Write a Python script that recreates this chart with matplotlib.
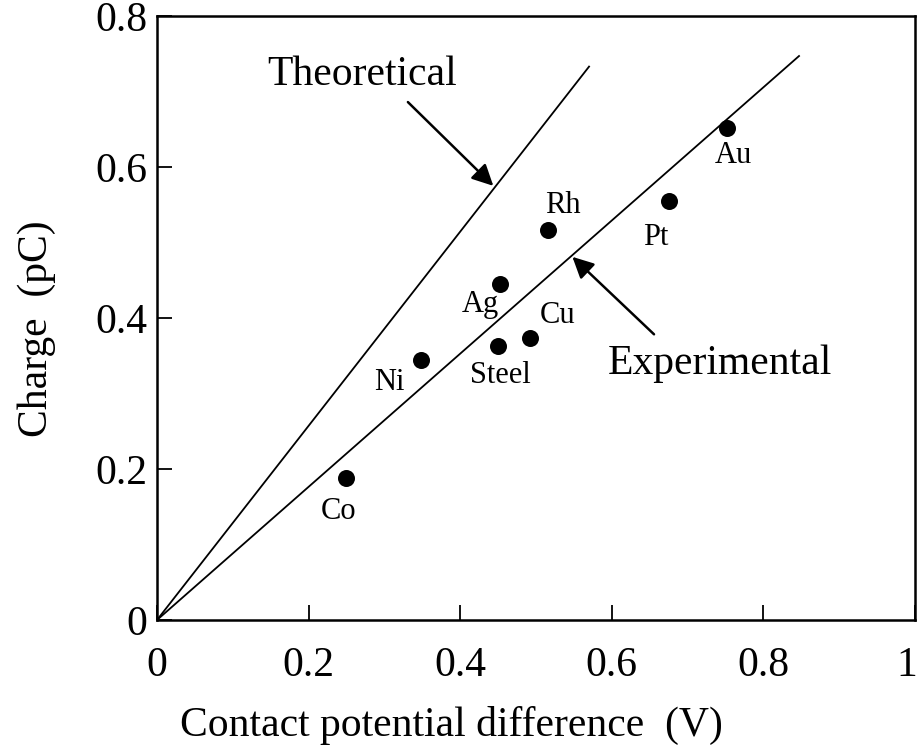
import numpy as np
import matplotlib
matplotlib.use('Agg')
import matplotlib.pyplot as plt
import matplotlib.transforms as mtransforms

plt.rcParams['font.family'] = ['Liberation Serif', 'DejaVu Serif']
plt.rcParams['mathtext.fontset'] = 'stix'

# metals: contact potential difference (V) vs charge (pC)
metals = ['Co', 'Ni', 'Steel', 'Ag', 'Cu', 'Rh', 'Pt', 'Au']
cpd = [0.250, 0.348, 0.450, 0.453, 0.492, 0.516, 0.676, 0.752]
charge = [0.188, 0.344, 0.363, 0.445, 0.374, 0.517, 0.555, 0.652]
# label anchor (centre x, baseline y) for each metal
label_x = [0.240, 0.307, 0.4525, 0.426, 0.528, 0.536, 0.658, 0.760]
label_y = [0.134, 0.305, 0.314, 0.408, 0.393, 0.539, 0.497, 0.605]

# straight lines through the origin
theo_x = [0.0, 0.570]
theo_y = [0.0, 0.733]
expt_x = [0.0, 0.847]
expt_y = [0.0, 0.747]

fig = plt.figure(figsize=(9.2, 7.51), dpi=100)
ax = fig.add_axes([157/920, 1-620/751, (915-157)/920, (620-16)/751])

ax.plot(theo_x, theo_y, color='k', lw=1.3)
ax.plot(expt_x, expt_y, color='k', lw=1.3)
ax.scatter(cpd, charge, s=150, color='k', zorder=3, linewidths=0)

for name, lx, ly in zip(metals, label_x, label_y):
    ax.text(lx, ly, name, ha='center', va='baseline', fontsize=22)

ax.annotate('', xy=(0.4437, 0.575), xytext=(0.331, 0.686),
            arrowprops=dict(arrowstyle='-|>', color='k', lw=1.8,
                            mutation_scale=32, shrinkA=0, shrinkB=0))
ax.text(0.2704, 0.7086, 'Theoretical', ha='center', va='baseline', fontsize=30)

ax.annotate('', xy=(0.548, 0.481), xytext=(0.6557, 0.3784),
            arrowprops=dict(arrowstyle='-|>', color='k', lw=1.8,
                            mutation_scale=32, shrinkA=0, shrinkB=0))
ax.text(0.7427, 0.3258, 'Experimental', ha='center', va='baseline', fontsize=30)

ax.set_xlim(0, 1)
ax.set_ylim(0, 0.8)
ax.set_xticks([0, 0.2, 0.4, 0.6, 0.8, 1])
ax.set_xticklabels(['0', '0.2', '0.4', '0.6', '0.8', '1'])
ax.set_yticks([0, 0.2, 0.4, 0.6, 0.8])
ax.set_yticklabels(['0', '0.2', '0.4', '0.6', '0.8'])
ax.tick_params(direction='in', length=11, width=1.3, labelsize=30,
               top=False, right=False)
ax.tick_params(axis='x', pad=19)
ax.tick_params(axis='y', pad=7)
for sp in ax.spines.values():
    sp.set_linewidth(1.8)

# pull the last x label ("1") a bit left so it stays inside the figure
shift = mtransforms.ScaledTranslation(-6/72, 0, fig.dpi_scale_trans)
lab = ax.get_xticklabels()[-1]
lab.set_transform(lab.get_transform() + shift)

ax.set_xlabel('Contact potential difference  (V)', fontsize=30)
ax.xaxis.set_label_coords(0.389, -0.142)
ax.set_ylabel('Charge  (pC)', fontsize=30)
ax.yaxis.set_label_coords(-0.133, 0.482)

fig.savefig('out.png', dpi=100)
